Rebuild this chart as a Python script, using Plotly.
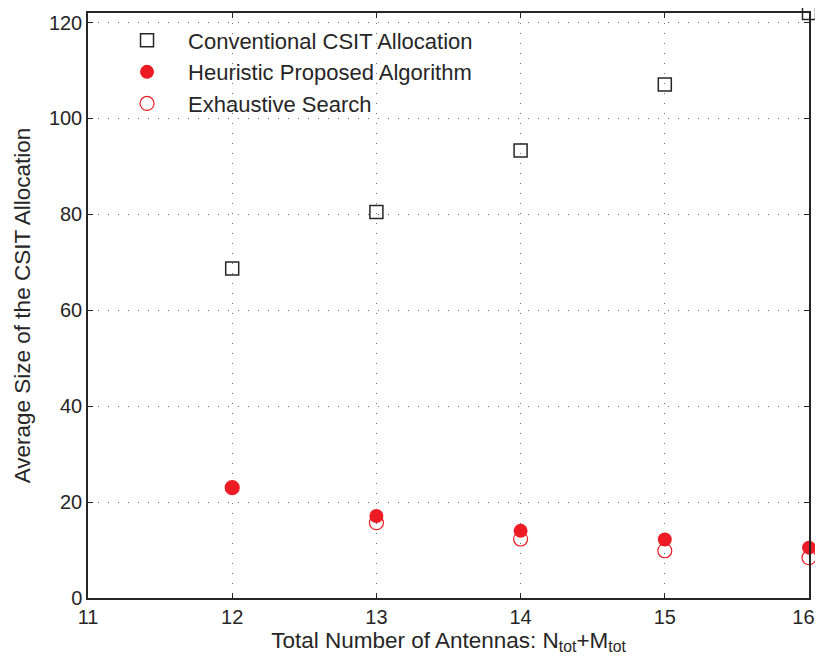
import plotly.graph_objects as go

antennas = [12, 13, 14, 15, 16]
conventional = [68.7, 80.5, 93.3, 107.1, 122.0]
heuristic = [23.0, 17.1, 14.0, 12.2, 10.5]
exhaustive = [23.0, 15.7, 12.3, 9.85, 8.4]

x_ticks = [11, 12, 13, 14, 15, 16]
y_ticks = [0, 20, 40, 60, 80, 100, 120]

RED = "#ED1C24"
FONT = "Liberation Sans, Arial, Helvetica, sans-serif"
INK = "#262626"

fig = go.Figure()
fig.add_trace(go.Scatter(
    x=antennas, y=conventional, mode="markers", name="Conventional CSIT Allocation",
    marker=dict(symbol="square-open", size=13, color=INK, line=dict(width=1.5)),
    cliponaxis=False))
fig.add_trace(go.Scatter(
    x=antennas, y=heuristic, mode="markers", name="Heuristic Proposed Algorithm",
    marker=dict(symbol="circle", size=14, color=RED, line=dict(width=0)),
    cliponaxis=False))
fig.add_trace(go.Scatter(
    x=antennas, y=exhaustive, mode="markers", name="Exhaustive Search",
    marker=dict(symbol="circle-open", size=14, color=RED, line=dict(width=1.2)),
    cliponaxis=False))

axis_common = dict(
    showline=True, linecolor=INK, linewidth=1.5, mirror="ticks",
    ticks="inside", ticklen=5, tickwidth=1, tickcolor=INK,
    showgrid=True, gridcolor="#707070", griddash="1px,9px", gridwidth=1,
    zeroline=False, automargin=False, ticklabeloverflow="allow",
    tickfont=dict(size=20, color=INK, family=FONT),
)

# last x label padded so it stays inside the visible page
x_ticktext = [str(v) for v in x_ticks]
x_ticktext[-1] = x_ticktext[-1] + "\u00a0\u00a0"

fig.update_xaxes(range=[11, 16], tickvals=x_ticks, ticktext=x_ticktext,
                 title=dict(text="Total Number of Antennas: N<sub>tot</sub>+M<sub>tot</sub>",
                            font=dict(size=22.5, color=INK, family=FONT), standoff=4),
                 **axis_common)
fig.update_yaxes(range=[0, 122], tickvals=y_ticks, ticktext=[str(v) for v in y_ticks],
                 title=dict(text="Average Size of the CSIT Allocation",
                            font=dict(size=22.5, color=INK, family=FONT), standoff=12),
                 **axis_common)

fig.update_layout(
    width=815, height=651,
    margin=dict(l=80, r=14, t=5, b=61),
    plot_bgcolor="white", paper_bgcolor="white",
    font=dict(family=FONT, color=INK),
    legend=dict(x=0.025, y=0.989, xanchor="left", yanchor="top",
                bgcolor="rgba(0,0,0,0)", borderwidth=0,
                font=dict(size=22, color=INK, family=FONT),
                tracegroupgap=0, itemwidth=72),
    showlegend=True,
)

fig.write_html("out.html")
